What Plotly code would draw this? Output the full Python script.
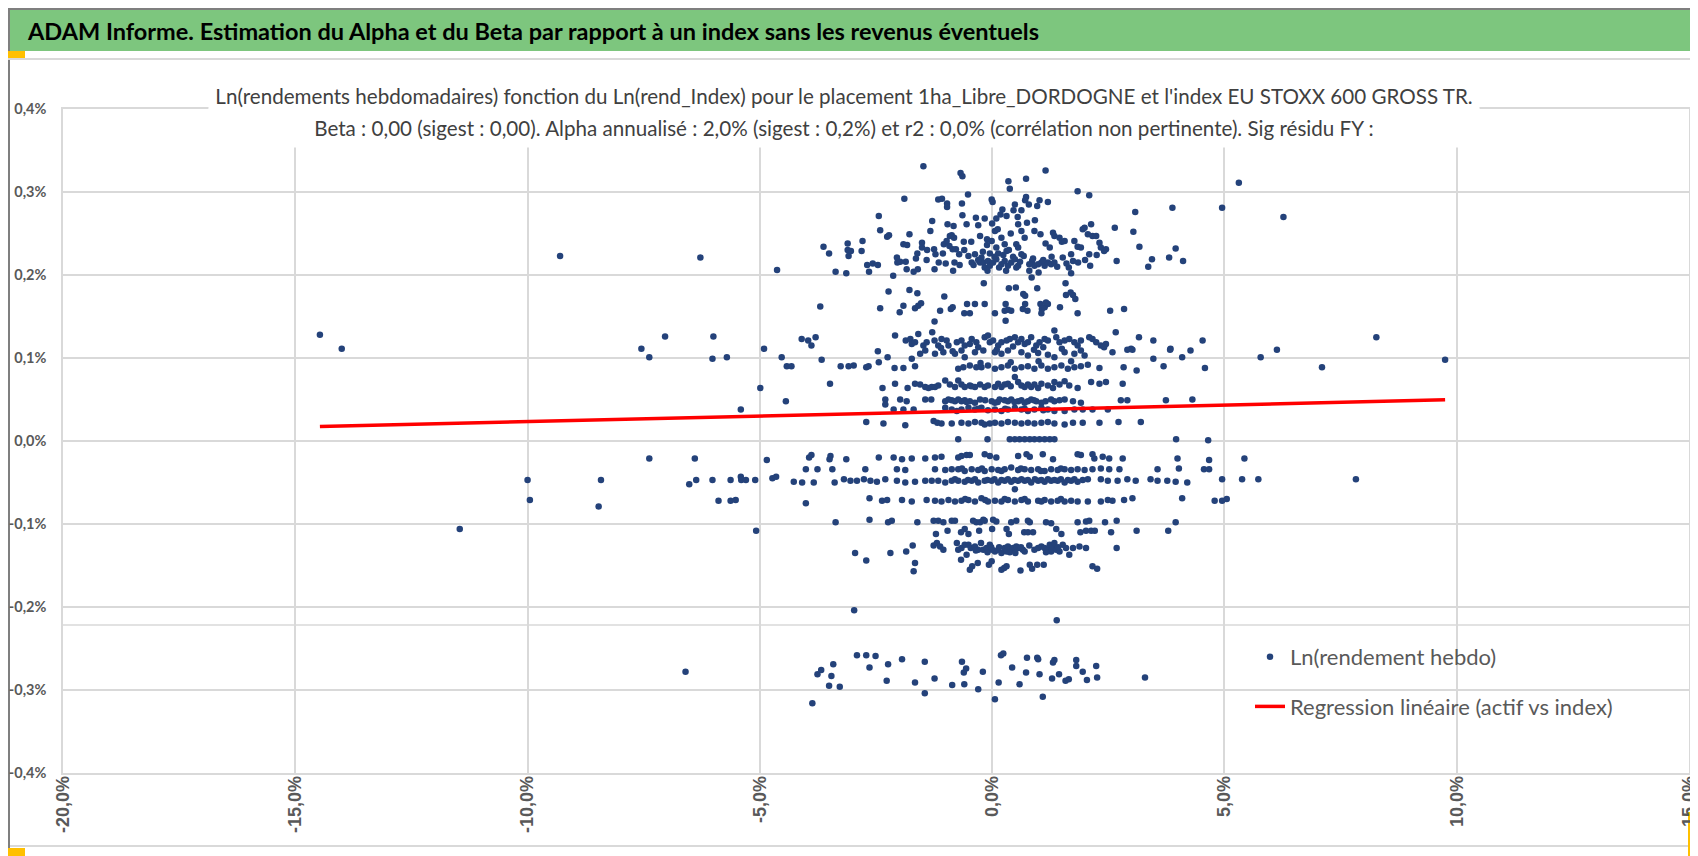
"""
ADAM Informe : nuage Ln(rendement hebdo) vs Ln(rend_Index) et droite de regression.
"""
import numpy as np
import plotly.graph_objects as go

# valeurs en % : (Ln(rend_Index), Ln(rendement hebdo))
nuage_haut = [
    (-1.48, 0.331), (-0.68, 0.323), (-0.64, 0.319), (1.15, 0.326), (0.73, 0.316), (0.35, 0.313),
    (0.38, 0.304), (1.84, 0.301), (2.09, 0.296), (-1.89, 0.292), (-1.16, 0.291), (-1.08, 0.292),
    (-0.97, 0.286), (-0.97, 0.282), (-0.52, 0.297), (-0.65, 0.286), (-0.01, 0.291), (0.01, 0.288),
    (0.73, 0.294), (0.71, 0.290), (1.02, 0.290), (0.97, 0.283), (1.20, 0.288), (3.88, 0.281),
    (3.08, 0.276), (-2.44, 0.271), (-2.41, 0.254), (-1.29, 0.265), (-1.33, 0.253), (-0.64, 0.272),
    (-0.55, 0.261), (-0.35, 0.269), (-0.16, 0.268), (-0.30, 0.260), (-0.96, 0.261), (-0.83, 0.259),
    (0.22, 0.279), (0.18, 0.273), (0.09, 0.268), (0.31, 0.271), (0.49, 0.285), (0.46, 0.278),
    (0.63, 0.278), (0.56, 0.261), (0.75, 0.263), (0.92, 0.266), (0.79, 0.285), (-1.78, 0.249),
    (-2.26, 0.246), (-2.22, 0.248), (-2.79, 0.241), (-3.11, 0.238), (-3.63, 0.234), (-3.51, 0.226),
    (-3.11, 0.230), (-3.04, 0.229), (-2.81, 0.229), (-3.09, 0.223), (-2.69, 0.212), (-2.57, 0.214),
    (-2.46, 0.212), (-2.65, 0.204), (-3.37, 0.204), (-3.14, 0.202), (-2.13, 0.199), (-2.05, 0.221),
    (-1.98, 0.216), (-2.04, 0.215), (-1.91, 0.237), (-1.83, 0.236), (-1.51, 0.239), (-1.51, 0.233),
    (-1.61, 0.226), (-1.64, 0.220), (-1.86, 0.216), (-1.84, 0.207), (-1.69, 0.204), (-1.60, 0.207),
    (-1.41, 0.218), (-1.24, 0.207), (-1.25, 0.231), (-1.22, 0.225), (-1.06, 0.226), (-1.00, 0.214),
    (-1.04, 0.237), (-0.98, 0.241), (-0.92, 0.235), (-0.87, 0.248), (-0.82, 0.245), (-0.91, 0.247),
    (-0.85, 0.231), (-0.78, 0.231), (-0.71, 0.225), (-0.81, 0.215), (-0.84, 0.205), (-0.61, 0.240),
    (-0.51, 0.223), (-0.44, 0.215), (-0.37, 0.225), (-0.26, 0.247), (-0.26, 0.215), (-0.19, 0.215),
    (-0.16, 0.209), (-0.11, 0.236), (-0.11, 0.243), (-0.01, 0.241), (0.06, 0.253), (0.09, 0.233),
    (0.13, 0.226), (0.20, 0.245), (0.27, 0.237), (0.31, 0.229), (-0.23, 0.221), (-0.09, 0.217),
    (-0.05, 0.211), (0.02, 0.215), (0.09, 0.219), (0.20, 0.213), (0.27, 0.217), (0.34, 0.211),
    (0.41, 0.215), (0.49, 0.219), (0.56, 0.211), (0.63, 0.225), (0.63, 0.253), (0.70, 0.245),
    (0.52, 0.237), (0.56, 0.233), (0.86, 0.217), (0.91, 0.211), (0.99, 0.213), (1.06, 0.215),
    (1.13, 0.211), (1.20, 0.215), (1.27, 0.213), (1.34, 0.215), (1.04, 0.249), (0.91, 0.253),
    (1.24, 0.233), (1.31, 0.251), (1.34, 0.247), (1.45, 0.245), (1.50, 0.240), (1.56, 0.241),
    (1.52, 0.221), (1.70, 0.225), (1.77, 0.241), (1.84, 0.234), (1.91, 0.233), (1.95, 0.255),
    (1.99, 0.257), (2.06, 0.249), (2.13, 0.261), (2.16, 0.247), (2.24, 0.247), (2.31, 0.239),
    (2.34, 0.233), (2.41, 0.229), (2.45, 0.231), (2.09, 0.225), (2.11, 0.211), (1.65, 0.209),
    (1.70, 0.202), (1.74, 0.217), (2.64, 0.257), (2.68, 0.217), (3.04, 0.252), (3.17, 0.234),
    (3.36, 0.210), (3.44, 0.219), (3.81, 0.221), (3.95, 0.232), (4.11, 0.217),
    (-0.40, 0.212), (-0.30, 0.218), (-0.05, 0.226), (0.05, 0.222), (0.15, 0.209), (0.24, 0.224),
    (0.36, 0.230), (0.45, 0.222), (0.52, 0.209), (0.60, 0.216), (0.68, 0.223), (0.80, 0.213),
    (0.88, 0.220), (1.10, 0.218), (1.28, 0.222), (1.40, 0.210), (1.60, 0.214), (-0.70, 0.212),
    (-0.60, 0.230), (-0.20, 0.228), (0.00, 0.262), (0.12, 0.255), (0.40, 0.250), (0.55, 0.270),
    (-0.45, 0.240), (1.15, 0.238), (1.85, 0.215), (2.00, 0.218), (2.25, 0.224), (-1.15, 0.215),
    (-1.40, 0.230), (0.30, 0.205), (0.80, 0.205), (1.00, 0.203), (-0.10, 0.205),
    (-0.18, 0.190), (-2.23, 0.180), (-1.78, 0.182), (-1.61, 0.178), (-2.41, 0.160), (-3.70, 0.162),
    (-1.99, 0.155), (-1.91, 0.163), (-1.66, 0.160), (-1.59, 0.163), (-1.53, 0.166), (-1.03, 0.174),
    (-1.24, 0.144), (-1.12, 0.157), (-0.89, 0.159), (-0.85, 0.161), (-0.60, 0.154), (-0.48, 0.154),
    (-0.54, 0.165), (-0.37, 0.165), (-0.16, 0.165), (0.06, 0.154), (0.29, 0.165), (0.27, 0.157),
    (0.34, 0.158), (0.41, 0.157), (0.29, 0.145), (0.36, 0.184), (0.51, 0.185), (0.67, 0.177),
    (0.71, 0.175), (0.66, 0.159), (0.71, 0.165), (0.76, 0.157), (0.85, 0.197), (0.97, 0.184),
    (1.04, 0.165), (1.07, 0.159), (1.13, 0.161), (1.20, 0.165), (1.16, 0.167), (1.06, 0.154),
    (1.46, 0.161), (1.58, 0.190), (1.59, 0.176), (1.69, 0.179), (1.74, 0.176), (1.79, 0.171),
    (1.84, 0.154), (2.54, 0.157), (2.84, 0.159),
]

bande_010 = [
    (-4.10, 0.123), (-3.96, 0.121), (-3.89, 0.115), (-3.80, 0.125), (-2.09, 0.127), (-1.86, 0.121),
    (-1.76, 0.123), (-1.73, 0.117), (-1.66, 0.119), (-1.59, 0.129), (-1.48, 0.115), (-1.41, 0.119),
    (-1.29, 0.131), (-1.24, 0.121), (-1.16, 0.115), (-1.09, 0.123), (-0.98, 0.121), (-0.94, 0.115),
    (-0.76, 0.119), (-0.66, 0.121), (-0.59, 0.115), (-0.48, 0.117), (-0.44, 0.123), (-0.34, 0.119),
    (-0.16, 0.125), (-0.09, 0.127), (-0.05, 0.119), (0.02, 0.121), (0.13, 0.115), (0.20, 0.119),
    (0.31, 0.121), (0.38, 0.123), (0.49, 0.125), (0.56, 0.119), (0.63, 0.123), (0.70, 0.117),
    (0.77, 0.119), (0.84, 0.125), (0.95, 0.115), (1.02, 0.119), (1.13, 0.123), (1.20, 0.121),
    (1.34, 0.133), (1.38, 0.125), (1.45, 0.119), (1.56, 0.121), (1.66, 0.123), (1.77, 0.119),
    (1.84, 0.115), (1.91, 0.121), (2.09, 0.125), (2.16, 0.123), (2.24, 0.119), (2.34, 0.115),
    (2.45, 0.117), (2.66, 0.131), (2.99, 0.111), (3.16, 0.125), (3.47, 0.121), (3.84, 0.111),
    (4.27, 0.109),
    (-2.46, 0.108), (-3.67, 0.098), (-2.25, 0.101), (-1.73, 0.099), (-1.55, 0.105), (-1.44, 0.109),
    (-1.23, 0.105), (-1.05, 0.107), (-0.80, 0.105), (-0.66, 0.109), (-0.59, 0.101), (-0.37, 0.107),
    (-0.19, 0.109), (0.06, 0.107), (0.20, 0.105), (0.34, 0.109), (0.63, 0.107), (0.77, 0.103),
    (0.99, 0.106), (1.20, 0.104), (1.34, 0.101), (1.56, 0.107), (1.77, 0.105), (1.91, 0.109),
    (1.99, 0.103), (2.41, 0.113), (2.59, 0.107), (2.91, 0.110), (3.02, 0.110), (3.47, 0.099),
    (3.83, 0.110), (4.09, 0.101),
    (-3.26, 0.090), (-3.09, 0.090), (-2.98, 0.091), (-2.71, 0.089), (-2.66, 0.090), (-2.44, 0.095),
    (-2.10, 0.088), (-1.91, 0.088), (-1.66, 0.090), (-0.73, 0.087), (-0.62, 0.089), (-0.48, 0.091),
    (-0.34, 0.089), (-0.23, 0.089), (-0.09, 0.091), (0.06, 0.087), (0.20, 0.089), (0.34, 0.091),
    (0.49, 0.087), (0.63, 0.089), (0.77, 0.090), (0.91, 0.087), (1.06, 0.091), (1.20, 0.087),
    (1.34, 0.089), (1.49, 0.091), (1.63, 0.087), (1.77, 0.089), (1.91, 0.090), (2.06, 0.092),
    (2.31, 0.088), (2.83, 0.089), (3.11, 0.085), (3.69, 0.090),
    (-1.10, 0.112), (-0.85, 0.108), (-0.30, 0.113), (0.10, 0.110), (0.45, 0.114), (0.90, 0.110),
    (1.10, 0.113), (1.50, 0.111), (-0.25, 0.094), (0.40, 0.095), (1.00, 0.096), (1.70, 0.096),
]

bande_005 = [
    (-3.49, 0.069), (-2.36, 0.064), (-2.09, 0.069), (-1.82, 0.064), (-1.66, 0.069), (-1.55, 0.068),
    (-1.44, 0.065), (-1.37, 0.064), (-1.30, 0.065), (-1.23, 0.065), (-1.16, 0.067), (-1.01, 0.073),
    (-0.91, 0.068), (-0.80, 0.065), (-0.73, 0.073), (-0.66, 0.068), (-0.59, 0.065), (-0.48, 0.067),
    (-0.37, 0.065), (-0.26, 0.068), (-0.16, 0.065), (-0.09, 0.067), (0.06, 0.065), (0.13, 0.069),
    (0.20, 0.065), (0.27, 0.068), (0.34, 0.069), (0.49, 0.077), (0.56, 0.071), (0.63, 0.067),
    (0.70, 0.065), (0.77, 0.068), (0.84, 0.065), (0.91, 0.068), (0.99, 0.064), (1.06, 0.069),
    (1.20, 0.067), (1.31, 0.064), (1.34, 0.071), (1.45, 0.068), (1.56, 0.072), (1.66, 0.067),
    (1.84, 0.064), (2.13, 0.071), (2.31, 0.069), (2.45, 0.071), (2.81, 0.069),
    (-2.30, 0.050), (-2.30, 0.044), (-1.98, 0.050), (-1.84, 0.048), (-1.44, 0.050), (-1.31, 0.050),
    (-1.01, 0.048), (-0.94, 0.050), (-0.87, 0.049), (-0.80, 0.048), (-0.73, 0.050), (-0.66, 0.048),
    (-0.59, 0.049), (-0.48, 0.048), (-0.37, 0.046), (-0.26, 0.050), (-0.01, 0.048), (0.06, 0.046),
    (0.16, 0.050), (0.27, 0.049), (0.34, 0.048), (0.41, 0.050), (0.56, 0.048), (0.63, 0.049),
    (0.70, 0.046), (0.77, 0.048), (0.84, 0.050), (0.95, 0.048), (1.06, 0.046), (1.27, 0.050),
    (1.34, 0.048), (1.45, 0.049), (1.56, 0.050), (1.74, 0.048), (1.91, 0.046), (2.77, 0.049),
    (2.91, 0.049), (3.74, 0.049), (4.31, 0.050),
    (-2.12, 0.038), (-1.91, 0.038), (-1.69, 0.038), (-1.01, 0.040), (-0.87, 0.038), (-0.76, 0.036),
    (-0.66, 0.038), (-0.51, 0.040), (-0.37, 0.038), (-0.23, 0.040), (-0.09, 0.037), (0.06, 0.038),
    (0.20, 0.036), (0.34, 0.038), (0.49, 0.040), (0.63, 0.038), (0.77, 0.036), (0.91, 0.038),
    (1.06, 0.040), (1.20, 0.038), (1.34, 0.036), (1.56, 0.036), (1.77, 0.038), (1.95, 0.038),
    (2.16, 0.038), (2.49, 0.038),
    (-0.55, 0.047), (-0.15, 0.049), (0.12, 0.047), (0.48, 0.047), (0.90, 0.049), (1.15, 0.048),
    (-0.30, 0.039), (0.28, 0.039), (0.70, 0.039), (1.10, 0.037), (-0.45, 0.066), (0.40, 0.066),
]

bande_002 = [
    (-2.71, 0.023), (-2.34, 0.021), (-1.87, 0.019), (-1.26, 0.024), (-1.18, 0.022), (-1.09, 0.021),
    (-0.87, 0.021), (-0.66, 0.022), (-0.51, 0.021), (-0.37, 0.023), (-0.23, 0.022), (-0.16, 0.020),
    (-0.05, 0.021), (0.06, 0.022), (0.20, 0.021), (0.34, 0.023), (0.49, 0.022), (0.63, 0.021),
    (0.77, 0.022), (0.91, 0.021), (1.06, 0.022), (1.20, 0.023), (1.34, 0.021), (1.56, 0.020),
    (1.74, 0.022), (1.95, 0.022), (2.31, 0.022), (2.72, 0.023), (3.20, 0.023),
    (-0.73, 0.002), (-0.10, 0.002), (0.38, 0.002), (0.49, 0.002), (0.59, 0.002), (0.70, 0.002),
    (0.81, 0.002), (0.91, 0.002), (1.02, 0.002), (1.13, 0.002), (1.24, 0.002), (1.34, 0.002),
    (3.96, 0.002),
]

bande_m003 = [
    (-3.89, -0.017), (-3.94, -0.020), (-3.48, -0.018), (-3.50, -0.022), (-3.14, -0.022),
    (-2.44, -0.020), (-2.12, -0.020), (-1.94, -0.022), (-1.73, -0.021), (-1.44, -0.021),
    (-1.23, -0.020), (-1.09, -0.019), (-0.73, -0.020), (-0.66, -0.018), (-0.55, -0.017),
    (-0.48, -0.017), (-0.16, -0.016), (-0.05, -0.018), (0.09, -0.020), (0.56, -0.018),
    (0.74, -0.016), (0.81, -0.019), (1.09, -0.016), (1.31, -0.022), (1.84, -0.016),
    (1.91, -0.017), (2.16, -0.016), (2.20, -0.021), (2.38, -0.019), (2.52, -0.021),
    (2.81, -0.021), (3.99, -0.021),
    (-4.01, -0.034), (-3.76, -0.034), (-3.44, -0.034), (-2.73, -0.034), (-2.05, -0.034),
    (-1.87, -0.035), (-1.23, -0.034), (-1.01, -0.035), (-0.87, -0.034), (-0.73, -0.034),
    (-0.59, -0.036), (-0.44, -0.034), (-0.30, -0.035), (-0.16, -0.036), (-0.01, -0.034),
    (0.13, -0.035), (0.27, -0.034), (0.41, -0.032), (0.56, -0.035), (0.70, -0.034),
    (0.84, -0.035), (0.99, -0.034), (1.13, -0.036), (1.27, -0.034), (1.41, -0.035),
    (1.56, -0.034), (1.70, -0.035), (1.84, -0.034), (1.99, -0.035), (2.16, -0.034),
    (2.34, -0.033), (2.52, -0.034), (2.74, -0.034), (3.56, -0.034), (4.02, -0.033),
    (-4.09, -0.050), (-3.84, -0.050), (-3.39, -0.050), (-3.19, -0.046), (-3.05, -0.048),
    (-2.91, -0.048), (-2.76, -0.046), (-2.62, -0.048), (-2.48, -0.049), (-2.30, -0.046),
    (-2.05, -0.048), (-1.87, -0.050), (-1.66, -0.049), (-1.44, -0.048), (-1.30, -0.048),
    (-1.16, -0.048), (-1.01, -0.050), (-0.87, -0.048), (-0.73, -0.048), (-0.59, -0.049),
    (-0.44, -0.048), (-0.30, -0.050), (-0.16, -0.048), (-0.01, -0.048), (0.13, -0.050),
    (0.27, -0.048), (0.41, -0.049), (0.56, -0.048), (0.70, -0.048), (0.84, -0.050),
    (0.99, -0.048), (1.13, -0.049), (1.27, -0.048), (1.41, -0.048), (1.56, -0.050),
    (1.70, -0.048), (1.84, -0.049), (2.06, -0.046), (2.34, -0.046), (2.49, -0.048),
    (2.70, -0.048), (2.91, -0.046), (3.09, -0.048), (3.41, -0.046), (3.56, -0.048),
    (3.77, -0.048), (3.95, -0.049), (4.20, -0.050), (0.49, -0.058),
    (-0.80, -0.046), (-0.52, -0.047), (-0.37, -0.046), (-0.10, -0.047), (0.05, -0.046),
    (0.20, -0.047), (0.34, -0.046), (0.48, -0.047), (0.63, -0.046), (0.77, -0.047),
    (0.92, -0.046), (1.06, -0.047), (1.20, -0.046), (1.34, -0.047), (1.48, -0.046),
    (1.63, -0.047), (1.77, -0.046), (1.95, -0.047),
    (-0.65, -0.033), (-0.22, -0.033), (0.20, -0.036), (0.62, -0.033), (1.05, -0.036), (1.48, -0.033),
]

bande_m008 = [
    (-4.01, -0.075), (-2.64, -0.069), (-2.37, -0.072), (-2.26, -0.071), (-1.94, -0.071),
    (-1.73, -0.073), (-1.41, -0.071), (-1.23, -0.072), (-1.09, -0.073), (-0.94, -0.071),
    (-0.80, -0.073), (-0.66, -0.072), (-0.51, -0.071), (-0.37, -0.073), (-0.23, -0.069),
    (-0.09, -0.073), (0.06, -0.072), (0.20, -0.073), (0.34, -0.071), (0.49, -0.073),
    (0.63, -0.071), (0.77, -0.073), (0.99, -0.072), (1.13, -0.071), (1.27, -0.073),
    (1.41, -0.072), (1.56, -0.073), (1.70, -0.072), (1.84, -0.073), (2.06, -0.073),
    (2.34, -0.073), (2.49, -0.071), (2.59, -0.072), (2.84, -0.071), (3.02, -0.069),
    (4.09, -0.069),
    (-0.58, -0.070), (-0.15, -0.071), (0.27, -0.070), (0.70, -0.070), (1.06, -0.073), (1.48, -0.070),
    (-3.37, -0.098), (-2.64, -0.095), (-2.24, -0.098), (-2.16, -0.096), (-1.61, -0.098),
    (-1.26, -0.096), (-1.16, -0.096), (-1.05, -0.098), (-0.87, -0.096), (-0.80, -0.096),
    (-0.41, -0.096), (-0.34, -0.098), (-0.26, -0.098), (-0.19, -0.095), (-0.16, -0.096),
    (0.02, -0.095), (0.09, -0.097), (0.41, -0.098), (0.52, -0.096), (0.77, -0.096),
    (0.81, -0.098), (1.16, -0.098), (1.27, -0.099), (1.84, -0.098), (2.02, -0.097),
    (2.09, -0.096), (2.43, -0.098), (2.68, -0.096), (3.95, -0.098),
    (-1.21, -0.112), (-0.96, -0.108), (-0.67, -0.110), (-0.59, -0.106), (-0.51, -0.112),
    (-0.28, -0.108), (0.00, -0.106), (0.31, -0.106), (0.36, -0.112), (0.69, -0.110),
    (0.77, -0.110), (0.88, -0.110), (1.38, -0.106), (1.49, -0.112), (1.90, -0.110),
    (2.02, -0.108), (2.13, -0.108), (2.21, -0.108), (2.56, -0.110), (3.11, -0.108),
    (3.79, -0.108),
]

bande_m013 = [
    (-2.95, -0.135), (-2.71, -0.144), (-2.19, -0.135), (-1.85, -0.133), (-1.71, -0.126),
    (-1.66, -0.147), (-1.69, -0.157), (-1.26, -0.126), (-1.19, -0.123), (-1.12, -0.127),
    (-1.05, -0.131), (-0.76, -0.123), (-0.73, -0.131), (-0.66, -0.129), (-0.59, -0.125),
    (-0.51, -0.125), (-0.46, -0.129), (-0.37, -0.127), (-0.30, -0.131), (-0.24, -0.123),
    (-0.19, -0.131), (-0.12, -0.129), (-0.05, -0.125), (0.00, -0.131), (0.06, -0.133),
    (0.13, -0.131), (0.20, -0.135), (0.27, -0.129), (0.31, -0.133), (0.34, -0.127),
    (0.40, -0.131), (0.45, -0.129), (0.52, -0.127), (0.57, -0.129), (0.66, -0.131),
    (0.70, -0.133), (0.91, -0.131), (0.99, -0.129), (1.06, -0.127), (1.13, -0.129),
    (1.20, -0.131), (1.24, -0.125), (1.27, -0.133), (1.31, -0.127), (1.34, -0.123),
    (1.38, -0.131), (1.45, -0.133), (1.52, -0.125), (1.59, -0.129), (1.66, -0.137),
    (1.74, -0.129), (1.88, -0.127), (2.02, -0.129), (2.68, -0.129),
    (-0.35, -0.132), (-0.10, -0.134), (0.15, -0.128), (0.38, -0.134), (0.62, -0.128),
    (0.80, -0.126), (1.16, -0.134), (1.42, -0.128), (0.50, -0.135), (-0.02, -0.128),
    (-0.67, -0.143), (-0.55, -0.137), (-0.48, -0.155), (-0.43, -0.151), (-0.31, -0.147),
    (-0.07, -0.149), (-0.01, -0.145), (0.20, -0.155), (0.26, -0.153), (0.31, -0.151),
    (0.61, -0.156), (0.81, -0.149), (0.86, -0.154), (0.97, -0.149), (1.11, -0.149),
    (2.16, -0.151), (2.26, -0.154),
    (-2.97, -0.204), (1.39, -0.216),
]

nuage_bas = [
    (-2.91, -0.258), (-2.71, -0.258), (-2.51, -0.259), (-2.64, -0.273), (-2.24, -0.269),
    (-1.94, -0.263), (-1.45, -0.266), (-0.65, -0.266), (-0.56, -0.274), (-0.61, -0.279),
    (-0.20, -0.278), (0.19, -0.258), (0.24, -0.256), (0.75, -0.261), (0.97, -0.261),
    (0.99, -0.263), (1.31, -0.267), (1.34, -0.264), (1.81, -0.264), (1.81, -0.271),
    (1.95, -0.278), (2.24, -0.271), (-3.76, -0.281), (-3.68, -0.276), (-3.42, -0.269),
    (-3.46, -0.283), (-3.51, -0.295), (-3.28, -0.296), (-2.27, -0.289), (-1.66, -0.291),
    (-1.24, -0.286), (-0.86, -0.294), (-0.60, -0.293), (-0.30, -0.299), (-1.45, -0.304),
    (0.14, -0.291), (0.43, -0.273), (0.59, -0.293), (0.73, -0.279), (1.02, -0.281),
    (1.09, -0.308), (1.29, -0.286), (1.44, -0.281), (1.58, -0.289), (1.65, -0.287),
    (2.04, -0.288), (2.26, -0.285), (3.29, -0.285), (0.06, -0.311), (-3.87, -0.316),
]

points_extremes = [
    (-14.47, 0.128), (-14.00, 0.111), (-9.30, 0.223), (-6.28, 0.221), (-4.63, 0.206),
    (-7.55, 0.111), (-7.38, 0.101), (-7.04, 0.126), (-6.00, 0.126), (-6.02, 0.099),
    (-5.71, 0.101), (-4.91, 0.111), (-4.53, 0.101), (-4.42, 0.090), (-4.32, 0.090),
    (-4.99, 0.064), (-4.44, 0.048), (-5.41, 0.038), (-7.38, -0.021), (-6.40, -0.021),
    (-4.85, -0.023), (-10.00, -0.047), (-9.95, -0.071), (-8.42, -0.047), (-8.47, -0.079),
    (-6.52, -0.052), (-6.37, -0.047), (-6.02, -0.047), (-5.63, -0.047), (-5.41, -0.043),
    (-5.40, -0.047), (-5.30, -0.047), (-5.10, -0.047), (-4.73, -0.045), (-4.65, -0.043),
    (-4.27, -0.049), (-5.89, -0.072), (-5.63, -0.072), (-5.52, -0.071), (-11.46, -0.106),
    (-5.08, -0.108), (-6.60, -0.278),
    (5.31, 0.311), (4.95, 0.281), (6.27, 0.270), (4.53, 0.121), (4.58, 0.088),
    (5.78, 0.101), (6.13, 0.110), (7.10, 0.089), (8.27, 0.125), (9.75, 0.098),
    (4.65, 0.001), (4.67, -0.023), (4.56, -0.034), (4.67, -0.034), (5.43, -0.021),
    (4.95, -0.046), (5.38, -0.046), (5.73, -0.046), (7.83, -0.046), (4.79, -0.072),
    (4.95, -0.072), (5.05, -0.070),
]

# droite de regression (en %) : rend = alpha_hebdo + beta * index
alpha_hebdo = 0.0367
beta = 0.00132

ticks_x = [-20, -15, -10, -5, 0, 5, 10, 15]
ticks_y = [-0.4, -0.3, -0.2, -0.1, 0.0, 0.1, 0.2, 0.3, 0.4]

titre_entete = "ADAM Informe. Estimation du Alpha et du Beta par rapport à un index sans les revenus éventuels"
titre_ligne1 = ("Ln(rendements hebdomadaires) fonction du Ln(rend_Index) pour le placement "
                "1ha_Libre_DORDOGNE et l'index EU STOXX 600 GROSS TR.")
titre_ligne2 = ("Beta : 0,00 (sigest : 0,00). Alpha annualisé : 2,0% (sigest : 0,2%) et r2 : 0,0% "
                "(corrélation non pertinente). Sig résidu FY :")

tous = nuage_haut + bande_010 + bande_005 + bande_002 + bande_m003 + bande_m008 + bande_m013 + nuage_bas + points_extremes
pts = np.array(tous) / 100.0
x_pts, y_pts = pts[:, 0], pts[:, 1]

x_reg = np.array([x_pts.min(), x_pts.max()])
y_reg = alpha_hebdo / 100.0 + beta * x_reg

def lab(v):
    return f"{v:.1f}%".replace(".", ",")

FONT = "Lato, Roboto, sans-serif"
GRIS = "#595959"

fig = go.Figure()
fig.add_trace(go.Scatter(
    x=x_pts, y=y_pts, mode="markers", name="Ln(rendement hebdo)", legendgroup="a",
    marker=dict(color="#24427a", size=6.5),
))
fig.add_trace(go.Scatter(
    x=x_reg, y=y_reg, mode="lines", name="Regression linéaire (actif vs index)", legendgroup="b",
    line=dict(color="#ff0000", width=3.5),
))

# cadre / entete (coordonnees en fraction de la zone de trace)
W, H = 1698, 856
L, R, T, B = 55, 17, 101, 91
pw, ph = W - L - R, H - T - B

def px(v):
    return (v - L) / pw

def py(v):
    return (H - B - v) / ph

shapes = [
    dict(type="rect", xref="paper", yref="paper", x0=px(0), x1=px(W), y0=py(2), y1=py(43),
         fillcolor="#7dc67e", line=dict(width=0), layer="below"),
    dict(type="line", xref="paper", yref="paper", x0=px(0), x1=px(W), y0=py(1), y1=py(1),
         line=dict(color="#7f7f7f", width=2)),
    dict(type="line", xref="paper", yref="paper", x0=px(0), x1=px(W), y0=py(51), y1=py(51),
         line=dict(color="#d9d9d9", width=2)),
    dict(type="line", xref="paper", yref="paper", x0=px(0), x1=px(1695), y0=py(838), y1=py(838),
         line=dict(color="#d9d9d9", width=2), layer="below"),
    dict(type="line", xref="paper", yref="paper", x0=px(1695), x1=px(1695), y0=py(51), y1=py(838),
         line=dict(color="#d9d9d9", width=2), layer="below"),
    dict(type="line", xref="paper", yref="paper", x0=px(1), x1=px(1), y0=py(0), y1=py(856),
         line=dict(color="#7f7f7f", width=2), layer="below"),
    dict(type="line", xref="paper", yref="paper", x0=px(0), x1=px(W), y0=py(855), y1=py(855),
         line=dict(color="#7f7f7f", width=2)),
    dict(type="rect", xref="paper", yref="paper", x0=px(0), x1=px(17), y0=py(43), y1=py(50),
         fillcolor="#ffc000", line=dict(width=0)),
    dict(type="rect", xref="paper", yref="paper", x0=px(0), x1=px(17), y0=py(840), y1=py(848),
         fillcolor="#ffc000", line=dict(width=0), layer="below"),
    dict(type="rect", xref="paper", yref="paper", x0=px(1680), x1=px(1696), y0=py(804), y1=py(848),
         fillcolor="#ffc000", line=dict(width=0), layer="below"),
    dict(type="line", xref="paper", yref="y", x0=0, x1=1, y0=-0.002217, y1=-0.002217,
         line=dict(color="#d9d9d9", width=1.5), layer="below"),
]

annotations = [
    dict(text=titre_entete, xref="paper", yref="paper", x=px(17), y=py(23), xanchor="left",
         yanchor="middle", showarrow=False, font=dict(family=FONT, size=23.5, color="#000000", weight="bold")),
    dict(text=titre_ligne1, xref="paper", yref="paper", x=px(836), y=py(88), xanchor="center",
         yanchor="middle", showarrow=False, align="center", bgcolor="#ffffff", width=1268, height=40,
         font=dict(family=FONT, size=20.6, color="#404040")),
    dict(text=titre_ligne2, xref="paper", yref="paper", x=px(836), y=py(120), xanchor="center",
         yanchor="middle", showarrow=False, align="center", bgcolor="#ffffff", width=1268, height=36,
         font=dict(family=FONT, size=20.6, color="#404040")),
]

axe = dict(showgrid=True, gridcolor="#d9d9d9", gridwidth=1.5, zeroline=False, showline=True,
           linecolor="#d9d9d9", linewidth=1.5, mirror=True, ticks="", automargin=False)

fig.update_layout(
    width=W, height=H,
    margin=dict(l=L, r=R, t=T, b=B, autoexpand=False),
    paper_bgcolor="#ffffff", plot_bgcolor="#ffffff",
    font=dict(family=FONT, color=GRIS),
    showlegend=True,
    legend=dict(x=px(1242), y=py(628), xanchor="left", yanchor="top", bgcolor="rgba(0,0,0,0)",
                font=dict(family=FONT, size=22, color=GRIS), tracegroupgap=18),
    shapes=shapes,
    annotations=annotations,
    xaxis=dict(axe, range=[-0.20, 0.15], tickvals=[v / 100 for v in ticks_x],
               ticktext=[lab(v) for v in ticks_x], tickangle=-90, ticklabelstandoff=-6,
               ticklabeloverflow="allow",
               tickfont=dict(family="Liberation Sans, Arial, sans-serif", size=18, color=GRIS, weight="bold")),
    yaxis=dict(axe, range=[-0.004, 0.004], tickvals=[v / 100 for v in ticks_y],
               ticktext=[lab(v) for v in ticks_y], ticklabelstandoff=12,
               tickfont=dict(family=FONT, size=14.5, color=GRIS, weight="bold")),
)

fig.write_html("out.html")
